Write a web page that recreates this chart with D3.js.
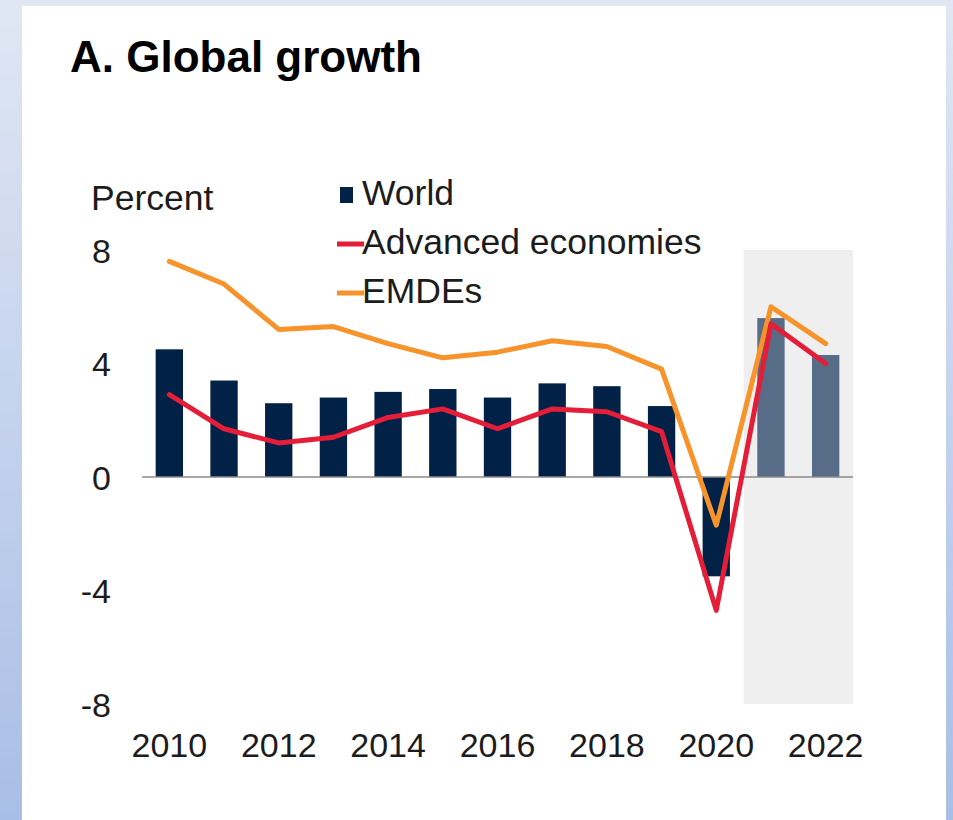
<!DOCTYPE html>
<html>
<head>
<meta charset="utf-8">
<script src="https://cdn.jsdelivr.net/npm/d3@7"></script>
<style>
    body { margin: 0; }
    svg { display: block; font-family: "Liberation Sans", Arial, sans-serif; }
</style>
</head>
<body>
<div id="chart"></div>
<script>
// Data
const years = ["2010", "2011", "2012", "2013", "2014", "2015", "2016", "2017", "2018", "2019", "2020", "2021", "2022"];
const world = [4.5, 3.4, 2.6, 2.8, 3.0, 3.1, 2.8, 3.3, 3.2, 2.5, -3.5, 5.6, 4.3];
const advanced = [2.9, 1.7, 1.2, 1.4, 2.1, 2.4, 1.7, 2.4, 2.3, 1.6, -4.7, 5.4, 4.0];
const emdes = [7.6, 6.8, 5.2, 5.3, 4.7, 4.2, 4.4, 4.8, 4.6, 3.8, -1.7, 6.0, 4.7];
const forecastYears = ["2021", "2022"];
const yTicks = [8, 4, 0, -4, -8];
const xTickLabels = ["2010", "2012", "2014", "2016", "2018", "2020", "2022"];

const config = {
    width: 953,
    height: 820,
    plot: { left: 142, right: 853, top: 250, bottom: 704 },
    colors: {
        world: "#022147",
        forecast: "#576c86",
        advanced: "#e41d38",
        emdes: "#f6932a",
        shade: "#efefef",
        zero: "#8a8a8a",
        text: "#1c1c1c"
    },
    fontSize: 34,
    legendFontSize: 35.5
};

const svg = d3.select("#chart")
    .append("svg")
    .attr("width", config.width)
    .attr("height", config.height);

// Page background: light blue gradient behind a white panel
const grad = svg.append("defs").append("linearGradient")
    .attr("id", "bg")
    .attr("x1", 0).attr("y1", 0).attr("x2", 0).attr("y2", 1);
grad.append("stop").attr("offset", "0%").attr("stop-color", "#e0e7f4");
grad.append("stop").attr("offset", "100%").attr("stop-color", "#a9bee6");

svg.append("rect")
    .attr("width", config.width)
    .attr("height", config.height)
    .attr("fill", "url(#bg)");

svg.append("rect")
    .attr("x", 22)
    .attr("y", 6)
    .attr("width", 924)
    .attr("height", config.height - 6)
    .attr("fill", "#ffffff");

// Scales
const x = d3.scaleBand()
    .domain(years)
    .range([config.plot.left, config.plot.right])
    .paddingInner(0.5)
    .paddingOuter(0.25);

const y = d3.scaleLinear()
    .domain([-8, 8])
    .range([config.plot.bottom, config.plot.top]);

const cx = d => x(d) + x.bandwidth() / 2;

// Forecast shading
const shadeStart = x(forecastYears[0]) - x.step() * x.paddingInner() / 2;
svg.append("rect")
    .attr("x", shadeStart)
    .attr("y", y(8))
    .attr("width", config.plot.right - shadeStart)
    .attr("height", y(-8) - y(8))
    .attr("fill", config.colors.shade);

// World bars
svg.append("g")
    .selectAll("rect")
    .data(years.map((yr, i) => ({ yr, v: world[i] })))
    .join("rect")
    .attr("x", d => x(d.yr))
    .attr("width", x.bandwidth())
    .attr("y", d => y(Math.max(0, d.v)))
    .attr("height", d => Math.abs(y(d.v) - y(0)))
    .attr("fill", d => forecastYears.includes(d.yr) ? config.colors.forecast : config.colors.world);

// Zero line
svg.append("line")
    .attr("x1", config.plot.left)
    .attr("x2", config.plot.right)
    .attr("y1", y(0))
    .attr("y2", y(0))
    .attr("stroke", config.colors.zero)
    .attr("stroke-width", 1.5);

// Lines
const line = d3.line()
    .x((d, i) => cx(years[i]))
    .y(d => y(d));

[[emdes, config.colors.emdes], [advanced, config.colors.advanced]].forEach(([series, color]) => {
    svg.append("path")
        .datum(series)
        .attr("d", line)
        .attr("fill", "none")
        .attr("stroke", color)
        .attr("stroke-width", 5)
        .attr("stroke-linejoin", "round")
        .attr("stroke-linecap", "round");
});

// Y axis (plain hyphen for negatives, as in the source)
const yAxis = svg.append("g")
    .attr("transform", `translate(${config.plot.left},0)`)
    .call(d3.axisLeft(y).tickValues(yTicks).tickSize(0).tickPadding(31).tickFormat(d => String(d)));
yAxis.select(".domain").remove();
yAxis.selectAll("text")
    .attr("font-family", null)
    .style("font-size", config.fontSize + "px")
    .attr("fill", config.colors.text)
    .attr("dy", "0.36em");

// X axis (labels every other year)
const xAxis = svg.append("g")
    .attr("transform", `translate(0,${config.plot.bottom})`)
    .call(d3.axisBottom(x).tickSize(0).tickPadding(29)
        .tickFormat(d => xTickLabels.includes(d) ? d : ""));
xAxis.select(".domain").remove();
xAxis.selectAll("text")
    .attr("font-family", null)
    .style("font-size", config.fontSize + "px")
    .attr("fill", config.colors.text);

// Unit label
svg.append("text")
    .attr("x", 91)
    .attr("y", 210)
    .style("font-size", config.legendFontSize + "px")
    .attr("fill", config.colors.text)
    .text("Percent");

// Title
svg.append("text")
    .attr("x", 70)
    .attr("y", 72)
    .style("font-size", "44px")
    .style("font-weight", "bold")
    .attr("fill", "#000")
    .text("A. Global growth");

// Legend
const legendItems = [
    { label: "World", type: "bar", color: config.colors.world },
    { label: "Advanced economies", type: "line", color: config.colors.advanced },
    { label: "EMDEs", type: "line", color: config.colors.emdes }
];
const legend = svg.append("g");
legendItems.forEach((item, i) => {
    const base = 205 + i * 49;
    if (item.type === "bar") {
        legend.append("rect")
            .attr("x", 340).attr("y", base - 18)
            .attr("width", 13).attr("height", 16)
            .attr("fill", item.color);
    } else {
        legend.append("line")
            .attr("x1", 337).attr("x2", 364)
            .attr("y1", base - 10).attr("y2", base - 10)
            .attr("stroke", item.color)
            .attr("stroke-width", 5);
    }
    legend.append("text")
        .attr("x", 362)
        .attr("y", base)
        .style("font-size", config.legendFontSize + "px")
        .attr("fill", config.colors.text)
        .text(item.label);
});
</script>
</body>
</html>
